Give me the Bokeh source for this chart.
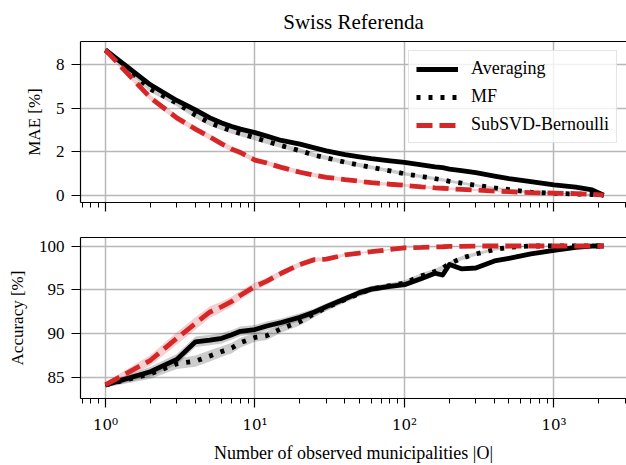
from bokeh.plotting import figure
from bokeh.layouts import column
from bokeh.models import FixedTicker, LogAxis, Legend, LegendItem
from bokeh.embed import file_html
from bokeh.resources import INLINE

# ---------------- data ----------------
x_obs = [1, 2, 3, 4, 5, 6, 7, 8, 10, 12, 15, 20, 25, 30, 40, 50, 60, 80, 100,
         130, 160, 180, 200, 240, 300, 400, 500, 700, 1000, 1400, 1800, 2150]

avg_mae = [8.35, 6.35, 5.45, 4.9, 4.45, 4.15, 3.95, 3.8, 3.6, 3.4, 3.15, 2.94, 2.72, 2.55, 2.33, 2.2,
           2.1, 1.98, 1.89, 1.75, 1.63, 1.58, 1.5, 1.42, 1.3, 1.1, 0.95, 0.78, 0.6, 0.46, 0.3, 0.0]
mf_mae = [8.35, 6.1, 5.3, 4.6, 4.15, 3.9, 3.7, 3.55, 3.3, 3.1, 2.85, 2.56, 2.3, 2.15, 1.9, 1.73,
          1.6, 1.4, 1.23, 1.08, 0.95, 0.88, 0.8, 0.7, 0.57, 0.42, 0.32, 0.17, 0.11, 0.07, 0.04, 0.0]
red_mae = [8.35, 5.6, 4.45, 3.8, 3.35, 2.95, 2.65, 2.45, 2.02, 1.85, 1.6, 1.32, 1.15, 1.03, 0.9, 0.8,
           0.72, 0.63, 0.57, 0.48, 0.42, 0.4, 0.37, 0.34, 0.3, 0.24, 0.2, 0.15, 0.12, 0.09, 0.05, 0.0]

avg_mae_err = [0.1, 0.12, 0.12, 0.12, 0.12, 0.12, 0.11, 0.11, 0.1, 0.1, 0.1, 0.09, 0.09, 0.08, 0.08, 0.08,
               0.07, 0.07, 0.07, 0.06, 0.06, 0.06, 0.06, 0.05, 0.05, 0.05, 0.04, 0.04, 0.03, 0.03, 0.02, 0.0]
mf_mae_err = [0.12, 0.18, 0.18, 0.18, 0.17, 0.17, 0.16, 0.16, 0.15, 0.15, 0.14, 0.14, 0.13, 0.13, 0.12, 0.12,
              0.11, 0.11, 0.1, 0.1, 0.09, 0.09, 0.09, 0.08, 0.08, 0.07, 0.06, 0.05, 0.04, 0.03, 0.02, 0.0]
red_mae_err = [0.12, 0.18, 0.18, 0.17, 0.17, 0.16, 0.16, 0.15, 0.15, 0.14, 0.14, 0.13, 0.12, 0.12, 0.11, 0.1,
               0.1, 0.09, 0.09, 0.08, 0.08, 0.07, 0.07, 0.07, 0.06, 0.06, 0.05, 0.04, 0.04, 0.03, 0.02, 0.0]

avg_acc = [84.2, 85.7, 87.1, 89.1, 89.3, 89.5, 89.9, 90.3, 90.5, 90.9, 91.3, 91.9, 92.5, 93.1, 94.0, 94.7,
           95.1, 95.4, 95.6, 96.3, 96.9, 96.7, 97.9, 97.4, 97.5, 98.3, 98.6, 99.1, 99.5, 99.85, 100.0, 100.0]
mf_acc = [84.2, 85.45, 86.6, 86.9, 87.5, 88.0, 88.4, 89.0, 89.6, 89.8, 90.6, 91.4, 92.3, 93.0, 93.9, 94.6,
          95.1, 95.5, 95.8, 96.6, 97.1, 97.5, 98.0, 98.6, 99.1, 99.6, 99.85, 100.0, 100.0, 100.0, 100.0, 100.0]
red_acc = [84.2, 87.0, 89.5, 91.2, 92.5, 93.1, 93.7, 94.4, 95.4, 96.0, 96.9, 97.9, 98.45, 98.5, 99.0, 99.2,
           99.35, 99.6, 99.8, 99.85, 99.9, 99.92, 99.95, 99.97, 100.0, 100.0, 100.0, 100.0, 100.0, 100.0, 100.0, 100.0]

avg_acc_err = [0.3, 0.55, 0.6, 0.6, 0.6, 0.6, 0.55, 0.55, 0.5, 0.5, 0.45, 0.45, 0.4, 0.4, 0.35, 0.35,
               0.35, 0.3, 0.3, 0.3, 0.3, 0.3, 0.25, 0.25, 0.2, 0.2, 0.15, 0.12, 0.1, 0.05, 0.02, 0.0]
mf_acc_err = [0.3, 0.55, 0.6, 0.65, 0.65, 0.6, 0.6, 0.55, 0.5, 0.5, 0.45, 0.45, 0.4, 0.4, 0.35, 0.35,
              0.35, 0.3, 0.3, 0.3, 0.3, 0.3, 0.25, 0.25, 0.2, 0.15, 0.1, 0.05, 0.03, 0.02, 0.01, 0.0]
red_acc_err = [0.3, 0.6, 0.7, 0.7, 0.65, 0.6, 0.55, 0.5, 0.45, 0.4, 0.35, 0.3, 0.25, 0.2, 0.15, 0.12,
               0.1, 0.08, 0.06, 0.05, 0.04, 0.03, 0.03, 0.02, 0.02, 0.01, 0.01, 0.0, 0.0, 0.0, 0.0, 0.0]

series_names = ["Averaging", "MF", "SubSVD-Bernoulli"]
x_tick_labels = {1: "10⁰", 10: "10¹", 100: "10²", 1000: "10³"}
mae_tick_labels = {0: "0", 2.5: "2", 5: "5", 7.5: "8"}
acc_ticks = [85, 90, 95, 100]

# ---------------- style ----------------
FONT = "Liberation Serif"
TICK_FONT_X = "DejaVu Serif"
RED = "#d62728"
GRID = "#b8b8b8"
X_RANGE = (10 ** -0.167, 10 ** 3.485)
minor_x = [0.7, 0.8, 0.9] + [m * d for d in (1, 10, 100) for m in range(2, 10)] + [2000, 3000]


def style(p, show_x_labels):
    p.outline_line_color = None
    p.background_fill_color = "white"
    p.border_fill_color = "white"
    xa = p.below[0]
    xa.ticker = FixedTicker(ticks=list(x_tick_labels.keys()), minor_ticks=minor_x)
    xa.major_tick_out = 9
    xa.major_tick_in = 0
    xa.minor_tick_out = 5
    xa.minor_tick_in = 0
    xa.axis_line_width = 1.2
    xa.major_tick_line_width = 1.2
    xa.minor_tick_line_width = 1.0
    xa.major_label_text_font = TICK_FONT_X
    xa.major_label_text_color = "black"
    xa.axis_label_text_font = FONT
    xa.axis_label_text_font_style = "normal"
    xa.axis_label_text_color = "black"
    xa.major_label_text_font_size = "15px"
    if show_x_labels:
        xa.major_label_overrides = dict(x_tick_labels)
        xa.major_label_standoff = 8
        xa.axis_label_text_font_size = "18px"
        xa.axis_label_standoff = 6
    else:
        xa.major_label_overrides = {k: "" for k in x_tick_labels}
        xa.major_label_standoff = 0
    ya = p.left[0]
    ya.major_tick_out = 9
    ya.major_tick_in = 0
    ya.minor_tick_out = 0
    ya.minor_tick_in = 0
    ya.axis_line_width = 1.2
    ya.major_tick_line_width = 1.2
    ya.major_label_text_font = FONT
    ya.major_label_text_font_size = "17px"
    ya.major_label_text_color = "black"
    ya.major_label_standoff = 7
    ya.axis_label_text_font = FONT
    ya.axis_label_text_font_size = "17px"
    ya.axis_label_text_font_style = "normal"
    ya.axis_label_text_color = "black"
    ya.axis_label_standoff = 9
    for g in (p.xgrid[0], p.ygrid[0]):
        g.grid_line_color = GRID
        g.grid_line_width = 1.5
    top = LogAxis(ticker=FixedTicker(ticks=[]),
                  major_tick_out=0, major_tick_in=0, minor_tick_out=0, minor_tick_in=0,
                  major_label_standoff=0, axis_line_width=1.2, axis_line_color="black")
    p.add_layout(top, "above")


def band(p, y, err, color, alpha):
    lo = [a - e for a, e in zip(y, err)]
    hi = [a + e for a, e in zip(y, err)]
    p.varea(x=x_obs, y1=lo, y2=hi, fill_color=color, fill_alpha=alpha)


# ---------------- top panel ----------------
p1 = figure(width=626, height=222, x_axis_type="log", x_range=X_RANGE, y_range=(-0.42, 8.84),
            output_backend="svg", toolbar_location=None,
            min_border_left=80, min_border_right=0, min_border_top=39, min_border_bottom=20)
p1.title.text = "Swiss Referenda"
p1.title.align = "center"
p1.title.text_font = FONT
p1.title.text_font_size = "21px"
p1.title.text_font_style = "normal"
p1.title.text_color = "black"
p1.title.standoff = 15
p1.yaxis.axis_label = "MAE [%]"
style(p1, False)
p1.left[0].ticker = FixedTicker(ticks=list(mae_tick_labels.keys()))
p1.left[0].major_label_overrides = dict(mae_tick_labels)

band(p1, avg_mae, avg_mae_err, "black", 0.2)
band(p1, mf_mae, mf_mae_err, "black", 0.2)
band(p1, red_mae, red_mae_err, RED, 0.22)
t1 = p1.line(x_obs, avg_mae, line_color="black", line_width=4.8, line_join="round")
t2 = p1.line(x_obs, mf_mae, line_color="black", line_width=4.8, line_dash="4 8", line_cap="butt")
t3 = p1.line(x_obs, red_mae, line_color=RED, line_width=4.8, line_dash="16 7", line_cap="butt")

legend = Legend(items=[LegendItem(label=series_names[0], renderers=[t1]),
                       LegendItem(label=series_names[1], renderers=[t2]),
                       LegendItem(label=series_names[2], renderers=[t3])],
                location="top_right")
legend.label_text_font = FONT
legend.label_text_font_size = "18px"
legend.label_text_color = "black"
legend.glyph_width = 42
legend.glyph_height = 20
legend.label_height = 20
legend.label_standoff = 13
legend.spacing = 7
legend.padding = 7
legend.margin = 9
legend.border_line_color = "#cccccc"
legend.border_line_width = 1.5
legend.background_fill_color = "white"
legend.background_fill_alpha = 0.8
p1.add_layout(legend, "center")

# ---------------- bottom panel ----------------
p2 = figure(width=626, height=243, x_axis_type="log", x_range=p1.x_range, y_range=(82.65, 100.97),
            output_backend="svg", toolbar_location=None,
            min_border_left=80, min_border_right=0, min_border_top=15, min_border_bottom=63)
p2.yaxis.axis_label = "Accuracy [%]"
p2.xaxis.axis_label = "Number of observed municipalities |O|"
style(p2, True)
p2.left[0].ticker = FixedTicker(ticks=acc_ticks)

band(p2, avg_acc, avg_acc_err, "black", 0.2)
band(p2, mf_acc, mf_acc_err, "black", 0.2)
band(p2, red_acc, red_acc_err, RED, 0.22)
p2.line(x_obs, avg_acc, line_color="black", line_width=4.8, line_join="round")
p2.line(x_obs, mf_acc, line_color="black", line_width=4.8, line_dash="4 8", line_cap="butt")
p2.line(x_obs, red_acc, line_color=RED, line_width=4.8, line_dash="16 7", line_cap="butt")

layout = column(p1, p2, spacing=0)
open("out.html", "w").write(file_html(layout, INLINE))
